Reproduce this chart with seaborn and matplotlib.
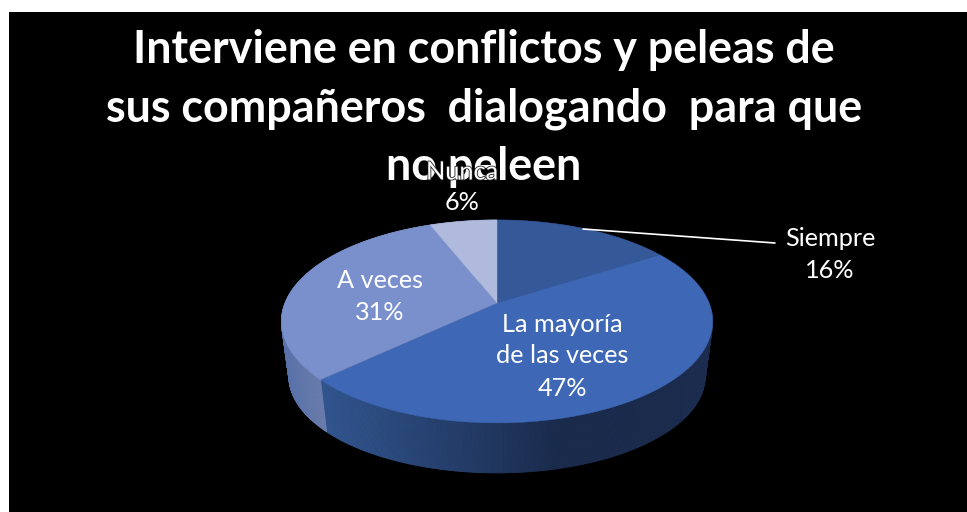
import numpy as np
import matplotlib
matplotlib.use("Agg")
import matplotlib.pyplot as plt
import matplotlib.colors as mcolors
import matplotlib.patheffects as pe
from matplotlib.patches import Rectangle
import seaborn as sns

# ---- data ----
categories = ["Siempre", "La mayoría\nde las veces", "A veces", "Nunca"]
values = [16, 47, 31, 6]
percent_labels = ["16%", "47%", "31%", "6%"]
title_lines = ["Interviene en conflictos y peleas de",
               "sus compañeros  dialogando  para que",
               "no peleen"]
top_colors = ["#345898", "#3E68B5", "#7A90CD", "#AFBADD"]

sns.set_theme(style="white")
plt.rcParams["font.family"] = ["Lato", "DejaVu Sans"]
palette = sns.color_palette(top_colors)

# wall shading stops: (screen x, colour), one ramp per slice
wall_ramps = [
    [(497, "#1B2C4E"), (713, "#1B2C4E")],
    [(325, "#32558F"), (450, "#253F6C"), (560, "#1A2B4C"), (713, "#1B2C4E")],
    [(281, "#5670A8"), (330, "#7080AD")],
    [(281, "#8090C0"), (497, "#8090C0")],
]

CX, CY = 497.0, 303.0      # apex of the pie on screen
A, B, K = 212.0, 98.1, -0.182   # projective circle → ellipse
BCY, BS_Y, BS_X = 377.0, 0.95, 0.965   # lower rim of the extrusion


def rim(theta_deg):
    t = np.radians(theta_deg)
    u, v = np.cos(t), np.sin(t)
    d = 1 - K * v
    return CX + A * u / d, CY - B * v / d


def lower(x, y):
    return CX + BS_X * (x - CX), BCY + BS_Y * (y - 322.0)


def ramp_color(ramp, x):
    xs = [r[0] for r in ramp]
    rgb = np.array([mcolors.to_rgb(r[1]) for r in ramp])
    return tuple(np.interp(x, xs, rgb[:, i]) for i in range(3))


fig = plt.figure(figsize=(9.67, 5.12), dpi=100, facecolor="white")
ax = fig.add_axes([0, 0, 1, 1])

wedges, _ = ax.pie(values, startangle=90, counterclock=False, colors=palette)
thetas = [(w.theta1, w.theta2) for w in wedges]
for w in wedges:
    w.remove()

ax.set_aspect("auto")
ax.set_xlim(0, 967)
ax.set_ylim(512, 0)
ax.axis("off")

ax.add_patch(Rectangle((9, 12), 958, 500, facecolor="black", edgecolor="none", zorder=0))

# side wall
for (t1, t2), ramp in zip(thetas, wall_ramps):
    steps = np.linspace(t1, t2, max(2, int((t2 - t1) * 2)))
    for a, b in zip(steps[:-1], steps[1:]):
        xa, ya = rim(a)
        xb, yb = rim(b)
        xla, yla = lower(xa, ya)
        xlb, ylb = lower(xb, yb)
        c = ramp_color(ramp, (xa + xb) / 2)
        ax.fill([xa, xb, xlb, xla], [ya, yb, ylb, yla], color=c, lw=0.6, zorder=1)

# top face
for (t1, t2), col in zip(thetas, palette):
    ts = np.linspace(t1, t2, 200)
    xs, ys = rim(ts)
    ax.fill(np.r_[CX, xs], np.r_[CY, ys], color=col, lw=0.3, zorder=2)

# leader line
ax.plot([583, 775], [229, 243], color="white", lw=1.2, zorder=3)

# labels
label_pos = [(830, 238, 270), (562, 340, 388), (380, 281, 312), (462, 172, 203)]
fs = 18.2
for cat, pct, (x, y1, y2) in zip(categories, percent_labels, label_pos):
    if cat == "Nunca":
        continue
    ax.text(x, y1, cat, color="white", fontsize=fs, ha="center", va="center",
            linespacing=1.4, zorder=4)
    ax.text(x, y2, pct, color="white", fontsize=fs, ha="center", va="center", zorder=4)

# title
for line, y in zip(title_lines, [50, 109, 167]):
    ax.text(484, y, line, color="white", fontsize=32.3, fontweight="bold",
            ha="center", va="center", zorder=5)

# Nunca collides with the title, as in the original
ax.text(462, 172, "Nunca", color="white", fontsize=fs, ha="center", va="center", zorder=6,
        path_effects=[pe.withStroke(linewidth=1.2, foreground="#222222")])
ax.text(462, 203, "6%", color="white", fontsize=fs, ha="center", va="center", zorder=6)

fig.savefig("out.png", dpi=100, facecolor="white")
